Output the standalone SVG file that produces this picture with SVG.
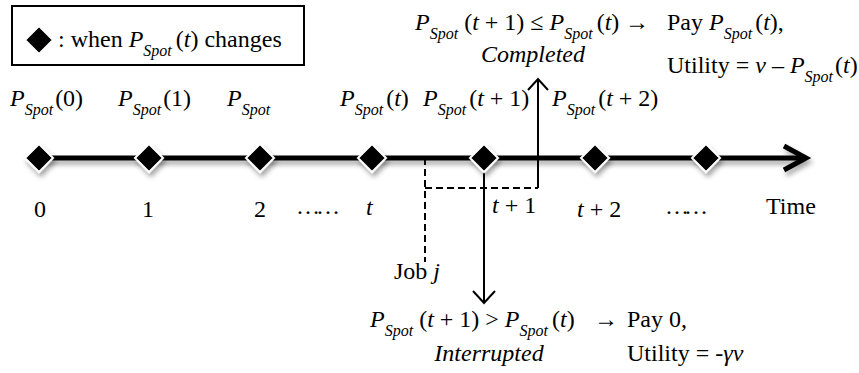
<svg xmlns="http://www.w3.org/2000/svg" width="859" height="373" viewBox="0 0 859 373">
<style>
.tx{font-family:'Liberation Serif','Times New Roman',serif;font-size:24px;fill:#000}
.i{font-style:italic}
.s{font-style:italic;font-size:16px}
.dm{fill:#000;stroke:#fff;stroke-width:2}
.solid{fill:none;stroke:#000;stroke-width:2}
.dash{fill:none;stroke:#000;stroke-width:2;stroke-dasharray:7 4}
</style>
<defs>
<filter id="sh" x="-10%" y="-50%" width="120%" height="200%">
<feDropShadow dx="2" dy="4" stdDeviation="2.5" flood-color="#000" flood-opacity="0.35"/>
</filter>
<path id="dia" d="M0,-14 L14,0 L0,14 L-14,0 Z"/>
</defs>

<g id="legend" font-family="Liberation Serif" font-size="24">
<rect x="12" y="6" width="292" height="59" fill="#fff" stroke="#000" stroke-width="2"/>
<use href="#dia" x="39" y="40" class="dm"/>
<text class="tx" font-family="Liberation Serif" x="58" y="47">: when <tspan class="i">P</tspan><tspan class="s" dy="9">Spot</tspan><tspan dy="-9" dx="4">(</tspan><tspan class="i">t</tspan>) changes</text>
</g>

<g id="connectors">
<g filter="url(#sh)">
<line x1="39" y1="158" x2="803" y2="158" stroke="#000" stroke-width="5"/>
<polyline points="784,146 806,158 784,170" fill="none" stroke="#000" stroke-width="5"/>
</g>
<polyline class="dash" points="425,158 425,262"/>
<polyline class="dash" points="425,188 538,188"/>
<line class="solid" x1="538" y1="188" x2="538" y2="80"/>
<polyline class="solid" points="528,90 538,79 548,90"/>
<line class="solid" x1="484" y1="158" x2="484" y2="302"/>
<polyline class="solid" points="473,291 484,303 495,291"/>
</g>

<g id="nodes" filter="url(#sh)">
<g id="n0"><use href="#dia" x="39" y="158" class="dm"/></g>
<g id="n1"><use href="#dia" x="149" y="158" class="dm"/></g>
<g id="n2"><use href="#dia" x="260" y="158" class="dm"/></g>
<g id="nt"><use href="#dia" x="372" y="158" class="dm"/></g>
<g id="nt1"><use href="#dia" x="484" y="158" class="dm"/></g>
<g id="nt2"><use href="#dia" x="595" y="158" class="dm"/></g>
<g id="nt3"><use href="#dia" x="706" y="158" class="dm"/></g>
</g>

<g id="price-labels" font-family="Liberation Serif" font-size="24">
<text class="tx" font-family="Liberation Serif" x="10" y="106"><tspan class="i">P</tspan><tspan class="s" dy="9">Spot</tspan><tspan dy="-9" dx="2">(0)</tspan></text>
<text class="tx" font-family="Liberation Serif" x="118" y="106"><tspan class="i">P</tspan><tspan class="s" dy="9">Spot</tspan><tspan dy="-9" dx="2">(1)</tspan></text>
<text class="tx" font-family="Liberation Serif" x="227" y="106"><tspan class="i">P</tspan><tspan class="s" dy="9">Spot</tspan></text>
<text class="tx" font-family="Liberation Serif" x="340" y="106"><tspan class="i">P</tspan><tspan class="s" dy="9">Spot</tspan><tspan dy="-9" dx="3">(</tspan><tspan class="i">t</tspan>)</text>
<text class="tx" font-family="Liberation Serif" x="423" y="106"><tspan class="i">P</tspan><tspan class="s" dy="9">Spot</tspan><tspan dy="-9" dx="3">(</tspan><tspan class="i">t</tspan> + 1)</text>
<text class="tx" font-family="Liberation Serif" x="552" y="106"><tspan class="i">P</tspan><tspan class="s" dy="9">Spot</tspan><tspan dy="-9" dx="3">(</tspan><tspan class="i">t</tspan> + 2)</text>
</g>

<g id="time-labels" font-family="Liberation Serif" font-size="24">
<text class="tx" font-family="Liberation Serif" x="40" y="217" text-anchor="middle">0</text>
<text class="tx" font-family="Liberation Serif" x="148" y="217" text-anchor="middle">1</text>
<text class="tx" font-family="Liberation Serif" x="260" y="217" text-anchor="middle">2</text>
<text class="tx" font-family="Liberation Serif" x="296" y="214" textLength="44">……</text>
<text class="tx i" font-family="Liberation Serif" x="366" y="215">t</text>
<text class="tx" font-family="Liberation Serif" x="492" y="213"><tspan class="i">t</tspan> + 1</text>
<text class="tx" font-family="Liberation Serif" x="577" y="217"><tspan class="i">t</tspan> + 2</text>
<text class="tx" font-family="Liberation Serif" x="665" y="214" textLength="43">……</text>
<text class="tx" font-family="Liberation Serif" x="766" y="214">Time</text>
<text class="tx" font-family="Liberation Serif" x="394" y="279">Job <tspan class="i">j</tspan></text>
</g>

<g id="completed" font-family="Liberation Serif" font-size="24">
<text class="tx" font-family="Liberation Serif" x="415" y="30"><tspan class="i">P</tspan><tspan class="s" dy="9">Spot</tspan><tspan dy="-9" dx="6">(</tspan><tspan class="i">t</tspan> + 1) ≤ <tspan class="i">P</tspan><tspan class="s" dy="9">Spot</tspan><tspan dy="-9" dx="4">(</tspan><tspan class="i">t</tspan>)</text>
<text class="tx" font-family="Liberation Serif" x="625" y="30">→</text>
<text class="tx" font-family="Liberation Serif" x="667" y="30">Pay <tspan class="i">P</tspan><tspan class="s" dy="9">Spot</tspan><tspan dy="-9" dx="3">(</tspan><tspan class="i">t</tspan>),</text>
<text class="tx i" font-family="Liberation Serif" x="533" y="62" text-anchor="middle">Completed</text>
<text class="tx" font-family="Liberation Serif" x="667" y="73">Utility = <tspan class="i">v</tspan> – <tspan class="i">P</tspan><tspan class="s" dy="9">Spot</tspan><tspan dy="-9" dx="2">(</tspan><tspan class="i">t</tspan>)</text>
</g>

<g id="interrupted" font-family="Liberation Serif" font-size="24">
<text class="tx" font-family="Liberation Serif" x="370" y="327"><tspan class="i">P</tspan><tspan class="s" dy="9">Spot</tspan><tspan dy="-9" dx="6">(</tspan><tspan class="i">t</tspan> + 1) &gt; <tspan class="i">P</tspan><tspan class="s" dy="9">Spot</tspan><tspan dy="-9" dx="4">(</tspan><tspan class="i">t</tspan>)</text>
<text class="tx" font-family="Liberation Serif" x="594" y="327">→</text>
<text class="tx" font-family="Liberation Serif" x="627" y="327">Pay 0,</text>
<text class="tx i" font-family="Liberation Serif" x="489" y="361" text-anchor="middle">Interrupted</text>
<text class="tx" font-family="Liberation Serif" x="627" y="361">Utility = -<tspan class="i">γv</tspan></text>
</g>
</svg>
